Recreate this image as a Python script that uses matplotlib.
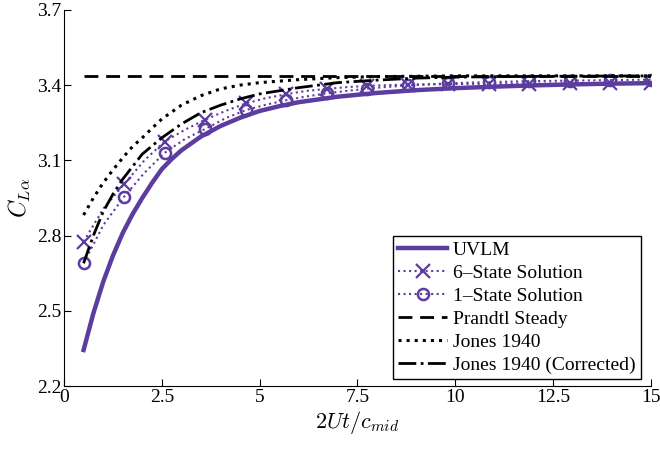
import numpy as np
import matplotlib
matplotlib.use('Agg')
import matplotlib.pyplot as plt

plt.rcParams['font.family'] = ['Liberation Serif', 'DejaVu Serif']
plt.rcParams['mathtext.fontset'] = 'cm'

purple = '#5C3C9E'

# UVLM reference solution
x_uvlm = [0.5, 0.75, 1.0, 1.25, 1.5, 1.75, 2.0, 2.25, 2.5, 2.75, 3.0, 3.5, 4.0, 4.5,
          5.0, 5.5, 6.0, 7.0, 8.0, 9.0, 10.0, 11.0, 12.0, 13.0, 14.0, 15.0]
cl_uvlm = [2.344, 2.49, 2.615, 2.72, 2.81, 2.885, 2.95, 3.01, 3.065, 3.105, 3.14,
           3.195, 3.237, 3.27, 3.297, 3.316, 3.332, 3.354, 3.369, 3.38, 3.388,
           3.394, 3.399, 3.403, 3.406, 3.408]

# state-space models, sampled at half the marker spacing
x_state = np.linspace(0.5, 15, 29)
cl_6state = [2.776, 2.910, 3.005, 3.100, 3.175, 3.222, 3.262, 3.297, 3.327, 3.348,
             3.364, 3.377, 3.385, 3.392, 3.397, 3.400, 3.402, 3.403, 3.404, 3.405,
             3.405, 3.406, 3.406, 3.406, 3.407, 3.407, 3.407, 3.407, 3.407]
cl_1state = [2.690, 2.845, 2.955, 3.050, 3.130, 3.185, 3.225, 3.268, 3.300, 3.322,
             3.340, 3.355, 3.367, 3.377, 3.386, 3.393, 3.399, 3.403, 3.407, 3.410,
             3.412, 3.414, 3.416, 3.417, 3.418, 3.419, 3.420, 3.421, 3.422]

# steady lifting-line value
x_prandtl = [0.5, 15.0]
cl_prandtl = [3.437, 3.437]

# Jones 1940 indicial response
x_jones = [0.5, 0.75, 1.0, 1.25, 1.5, 1.75, 2.0, 2.25, 2.5, 3.0, 3.5, 4.0, 4.5, 5.0,
           6.0, 7.0, 8.0, 10.0, 15.0]
cl_jones = [2.882, 2.95, 3.01, 3.062, 3.11, 3.155, 3.19, 3.228, 3.265, 3.32, 3.358,
            3.385, 3.40, 3.41, 3.422, 3.43, 3.434, 3.437, 3.437]

# Jones 1940 with correction
x_jones_c = [0.5, 0.75, 1.0, 1.25, 1.5, 2.0, 2.5, 3.0, 3.5, 4.0, 4.5, 5.0,
             6.0, 7.0, 8.0, 9.0, 10.0, 12.0, 15.0]
cl_jones_c = [2.69, 2.80, 2.895, 2.965, 3.025, 3.125, 3.19, 3.245, 3.29, 3.32, 3.345,
              3.365, 3.39, 3.41, 3.42, 3.428, 3.432, 3.435, 3.437]

fig = plt.figure(figsize=(6.6, 4.5), dpi=100)
ax = fig.add_axes([0.097, 0.142, 0.889, 0.836])

ax.plot(x_uvlm, cl_uvlm, '-', color=purple, lw=3.2, label='UVLM')
ax.plot(x_state, cl_6state, ':', color=purple, lw=1.5, marker='x', markevery=2,
        ms=10, mew=1.6, label='6\u2013State Solution')
ax.plot(x_state, cl_1state, ':', color=purple, lw=1.5, marker='o', markevery=2,
        ms=8, mew=1.8, mfc='none', label='1\u2013State Solution')
ax.plot(x_prandtl, cl_prandtl, color='k', lw=2.0, dashes=(5, 2.8), label='Prandtl Steady')
ax.plot(x_jones, cl_jones, ':', color='k', lw=2.2, label='Jones 1940')
ax.plot(x_jones_c, cl_jones_c, '-.', color='k', lw=2.0, label='Jones 1940 (Corrected)')

ax.set_xlim(0, 15)
ax.set_ylim(2.2, 3.7)
ax.set_xticks([0, 2.5, 5, 7.5, 10, 12.5, 15])
ax.set_xticklabels(['0', '2.5', '5', '7.5', '10', '12.5', '15'])
ax.set_yticks([2.2, 2.5, 2.8, 3.1, 3.4, 3.7])
ax.tick_params(direction='in', labelsize=14, length=5, pad=2)
ax.spines['top'].set_visible(False)
ax.spines['right'].set_visible(False)

ax.set_xlabel(r'$2Ut/c_{mid}$', fontsize=16, labelpad=2)
ax.set_ylabel(r'$C_{L\alpha}$', fontsize=17, labelpad=3)

leg = ax.legend(loc='lower right', bbox_to_anchor=(0.983, 0.019), borderaxespad=0,
                fontsize=14, fancybox=False, framealpha=1, edgecolor='k',
                labelspacing=0.27, handlelength=2.5, handletextpad=0.3,
                borderpad=0.28)
leg.get_frame().set_linewidth(1.0)

fig.savefig('out.png', dpi=100)
